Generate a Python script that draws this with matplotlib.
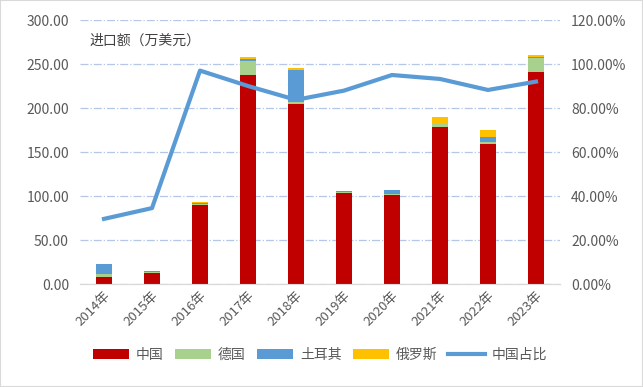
import matplotlib.pyplot as plt
import numpy as np
from matplotlib.patches import Rectangle

plt.rcParams['font.family'] = ['Noto Sans CJK SC', 'DejaVu Sans']

# Data
years = ['2014年', '2015年', '2016年', '2017年', '2018年',
         '2019年', '2020年', '2021年', '2022年', '2023年']
china = [7.5, 12.5, 89.5, 237.5, 205, 103.5, 101.5, 178.5, 159.5, 241]
germany = [3.5, 1, 1.5, 16, 2, 0.5, 1, 4, 1.5, 16]
turkey = [12, 1, 0.5, 2, 36, 1.5, 4, 0.5, 5.5, 1.5]
russia = [0, 0, 2, 2.5, 2.5, 0, 0.5, 6.5, 8.5, 2]
china_share = [0.296, 0.345, 0.97, 0.90, 0.837, 0.879, 0.95, 0.932, 0.882, 0.92]

series = [('中国', china, '#C00000'), ('德国', germany, '#A9D18E'),
          ('土耳其', turkey, '#5B9BD5'), ('俄罗斯', russia, '#FFC000')]

fig = plt.figure(figsize=(6.43, 3.87), dpi=100)
ax = fig.add_axes([80 / 643, 1 - 284 / 387, 480 / 643, 264 / 387])
ax2 = ax.twinx()

x = np.arange(len(years))
bottom = np.zeros(len(years))
for name, vals, color in series:
    ax.bar(x, vals, width=0.33, bottom=bottom, color=color, label=name, zorder=3)
    bottom += np.array(vals)

ax2.plot(x, china_share, color='#5B9BD5', linewidth=3, label='中国占比', zorder=4)

ax.set_xlim(-0.5, 9.5)
ax.set_ylim(0, 300)
ax2.set_ylim(0, 1.2)
ax.set_yticks(np.arange(0, 301, 50))
ax.set_yticklabels([f'{v:.2f}' for v in np.arange(0, 301, 50)])
ax2.set_yticks(np.arange(0, 1.21, 0.2))
ax2.set_yticklabels([f'{v * 100:.2f}%' for v in np.arange(0, 1.21, 0.2)])

ax.set_xticks(x)
ax.set_xticklabels(years, rotation=45, ha='right', rotation_mode='anchor')

ax.grid(axis='y', color='#B4C7E7', linestyle='-.', linewidth=0.9, zorder=0)
for a in (ax, ax2):
    for s in ['top', 'left', 'right']:
        a.spines[s].set_visible(False)
    a.spines['bottom'].set_color('#D9D9D9')
    a.tick_params(length=0, colors='#595959', labelsize=10)
ax.tick_params(axis='x', labelsize=9.5, pad=4)
ax.tick_params(axis='y', pad=8)
ax2.tick_params(axis='y', pad=8)

ax.text(0.02, 0.905, '进口额（万美元）', transform=ax.transAxes,
        fontsize=10, color='#404040')

h1, l1 = ax.get_legend_handles_labels()
h2, l2 = ax2.get_legend_handles_labels()
fig.legend(h1 + h2, l1 + l2, loc='center', bbox_to_anchor=(320 / 643, 1 - 355 / 387),
           ncol=5, frameon=False, fontsize=10, handlelength=2.6, columnspacing=0.8,
           handletextpad=0.5, labelcolor='#595959')

fig.patches.append(Rectangle((0, 0), 1, 1, transform=fig.transFigure, fill=False,
                             edgecolor='#D9D9D9', linewidth=1.5))

fig.savefig('out.png', dpi=100)
